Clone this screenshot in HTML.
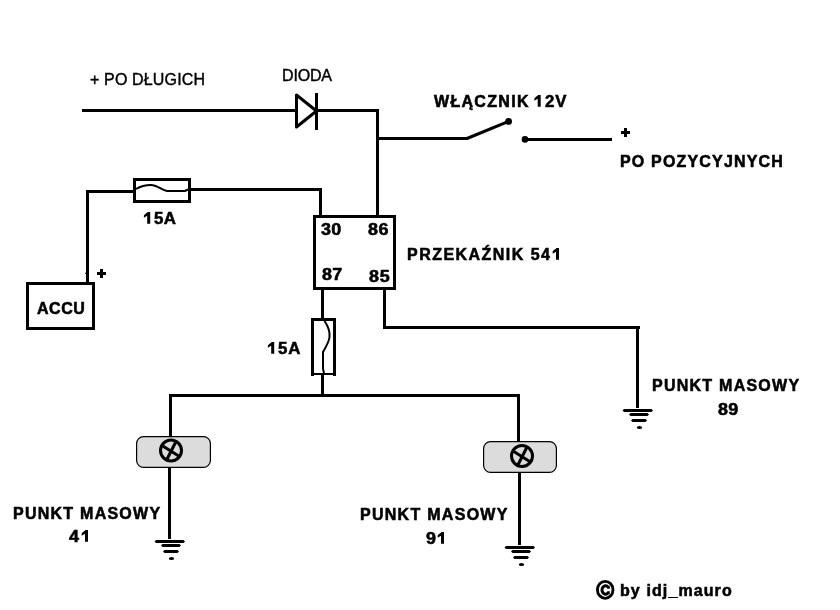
<!DOCTYPE html>
<html><head><meta charset="utf-8"><style>
html,body{margin:0;padding:0;background:#fff;}
body{width:840px;height:610px;position:relative;overflow:hidden;}
svg{position:absolute;left:0;top:0;}
.t{position:absolute;font-family:"Liberation Sans",sans-serif;color:#000;white-space:pre;line-height:1;transform-origin:0 0;will-change:transform;}
</style></head><body>
<svg width="840" height="610" viewBox="0 0 840 610" shape-rendering="geometricPrecision">
<g fill="#000">
<rect x="82" y="109" width="214" height="3"/>
<path d="M296.5,95 L296.5,127 L316.5,111 Z" fill="none" stroke="#000" stroke-width="3" stroke-linejoin="round"/>
<rect x="315" y="93" width="3" height="37"/>
<rect x="318" y="109" width="61" height="3"/>
<rect x="376" y="109" width="3" height="108"/>
<rect x="379" y="137" width="89" height="3"/>
<line x1="467" y1="138.5" x2="508.6" y2="121.4" stroke="#000" stroke-width="3"/>
<circle cx="508.6" cy="121.4" r="3.4"/>
<circle cx="525" cy="139.4" r="3.3"/>
<rect x="525" y="138" width="87" height="3"/>
<rect x="621" y="131" width="9" height="3"/>
<rect x="624" y="128" width="3" height="9"/>
<rect x="97" y="272" width="9" height="3"/>
<rect x="100" y="269" width="3" height="9"/>
<rect x="85" y="272.8" width="1.2" height="1"/>
<rect x="86" y="190" width="47" height="3"/>
<rect x="86" y="190" width="3" height="92"/>
<rect x="134.5" y="179.5" width="55" height="22" fill="none" stroke="#000" stroke-width="3"/>
<path d="M136,189 C141,186 145,185 151,185 C157,185 161,190 167,191 L185,191 L188,189.5" fill="none" stroke="#000" stroke-width="2"/>
<rect x="191" y="188" width="131" height="3"/>
<rect x="319" y="188" width="3" height="27"/>
<rect x="314.5" y="216.5" width="80" height="72" fill="none" stroke="#000" stroke-width="3"/>
<rect x="27.5" y="283.5" width="66" height="45" fill="none" stroke="#000" stroke-width="3"/>
<rect x="321" y="290" width="3" height="28"/>
<rect x="311" y="318" width="25" height="3"/>
<rect x="311" y="318" width="3" height="58"/>
<rect x="333" y="318" width="3" height="58"/>
<rect x="314" y="373" width="19" height="2"/>
<path d="M324.5,321 C328,326 330,332 329.5,337 C329,342 326,347 323,352 L323,369 L324,373" fill="none" stroke="#000" stroke-width="2"/>
<rect x="321" y="375" width="3" height="20"/>
<rect x="169" y="394" width="351" height="3"/>
<rect x="169" y="394" width="3" height="42"/>
<rect x="136.6" y="436.6" width="73.8" height="30.8" rx="7" ry="7" fill="#dcdcdc" stroke="#000" stroke-width="1.2"/><circle cx="171" cy="450.5" r="10.5" fill="none" stroke="#000" stroke-width="3"/><path d="M162,445.5 L179.5,456.5 M176,441.5 L167,459.2" stroke="#000" stroke-width="3" fill="none"/>
<rect x="168" y="468" width="3" height="71"/>
<polygon points="154.5,541.5 156.0,540 183.5,540 185,541.5 183.5,543 156.0,543"/><polygon points="161,545.5 162.5,544 179.5,544 181,545.5 179.5,547 162.5,547"/><polygon points="163,551.5 164.5,550 177.5,550 179,551.5 177.5,553 164.5,553"/><ellipse cx="171.5" cy="558.5" rx="2.7" ry="1.6"/>
<rect x="517" y="394" width="3" height="47"/>
<rect x="483.6" y="441.6" width="72.8" height="30.8" rx="7" ry="7" fill="#dcdcdc" stroke="#000" stroke-width="1.2"/><circle cx="522" cy="456" r="10.5" fill="none" stroke="#000" stroke-width="3"/><path d="M513,451 L530.5,462 M527,447 L518,464.7" stroke="#000" stroke-width="3" fill="none"/>
<rect x="518" y="473" width="3" height="72"/>
<polygon points="504.5,547.5 506.0,546 533.5,546 535,547.5 533.5,549 506.0,549"/><polygon points="511,551.5 512.5,550 529.5,550 531,551.5 529.5,553 512.5,553"/><polygon points="513,557.5 514.5,556 527.5,556 529,557.5 527.5,559 514.5,559"/><ellipse cx="521.5" cy="564.5" rx="2.7" ry="1.6"/>
<rect x="383" y="290" width="3" height="39"/>
<rect x="383" y="326" width="257" height="3"/>
<rect x="636" y="326" width="3" height="82"/>
<polygon points="622.5,410.5 624.0,409 651.5,409 653,410.5 651.5,412 624.0,412"/><polygon points="629,414.5 630.5,413 647.5,413 649,414.5 647.5,416 630.5,416"/><polygon points="631,420.5 632.5,419 645.5,419 647,420.5 645.5,422 632.5,422"/><ellipse cx="639.5" cy="427.5" rx="2.7" ry="1.6"/>
<path d="M147.2,212 L150.2,212 L150.2,223.8 L147.2,223.8 Z M147.6,212 L147.6,215.4 L143.89999999999998,217.8 L143.89999999999998,215.2 Z"/>
<path d="M271.2,342 L274.2,342 L274.2,353.8 L271.2,353.8 Z M271.59999999999997,342 L271.59999999999997,345.4 L267.9,347.8 L267.9,345.2 Z"/>
<path d="M537.7,95 L540.7,95 L540.7,106.8 L537.7,106.8 Z M538.1,95 L538.1,98.4 L534.4000000000001,100.8 L534.4000000000001,98.2 Z"/>
<path d="M556,248 L559,248 L559,259.8 L556,259.8 Z M556.4,248 L556.4,251.4 L552.7,253.8 L552.7,251.2 Z"/>
<path d="M85,530 L88,530 L88,541.8 L85,541.8 Z M85.4,530 L85.4,533.4 L81.7,535.8 L81.7,533.2 Z"/>
<path d="M441,532 L444,532 L444,543.8 L441,543.8 Z M441.4,532 L441.4,535.4 L437.7,537.8 L437.7,535.2 Z"/>
<ellipse cx="605.2" cy="589.8" rx="7.8" ry="8.5" fill="none" stroke="#000" stroke-width="2.8"/>
<path d="M609.8,587.2 L608.1,587.2 A3.5,4.2 0 1 0 608.1,592.8 L609.8,592.8" fill="none" stroke="#000" stroke-width="3"/>
</g>
</svg>
<div class="t" style="left:89.7px;top:71.8px;font-size:16px;font-weight:normal;letter-spacing:0.15px;transform:scaleX(1.0);-webkit-text-stroke:0.4px #000">+ PO DŁUGICH</div>
<div class="t" style="left:282.0px;top:68.0px;font-size:16px;font-weight:normal;letter-spacing:-0.17px;transform:scaleX(1.0);-webkit-text-stroke:0.4px #000">DIODA</div>
<div class="t" style="left:433.8px;top:93.8px;font-size:16px;font-weight:bold;letter-spacing:1.31px;transform:scaleX(1.0);-webkit-text-stroke:0.55px #000">WŁĄCZNIK</div>
<div class="t" style="left:545.0px;top:93.8px;font-size:16px;font-weight:bold;letter-spacing:0.86px;transform:scaleX(1.05);-webkit-text-stroke:0.55px #000">2V</div>
<div class="t" style="left:619.5px;top:154.3px;font-size:16px;font-weight:bold;letter-spacing:1.17px;transform:scaleX(1.0);-webkit-text-stroke:0.55px #000">PO POZYCYJNYCH</div>
<div class="t" style="left:154.0px;top:210.8px;font-size:16px;font-weight:bold;letter-spacing:0.38px;transform:scaleX(1.05);-webkit-text-stroke:0.55px #000">5A</div>
<div class="t" style="left:320.8px;top:221.8px;font-size:16px;font-weight:bold;letter-spacing:0.18px;transform:scaleX(1.12);-webkit-text-stroke:0.55px #000">30</div>
<div class="t" style="left:368.1px;top:222.1px;font-size:16px;font-weight:bold;letter-spacing:0.45px;transform:scaleX(1.12);-webkit-text-stroke:0.55px #000">86</div>
<div class="t" style="left:322.0px;top:266.9px;font-size:16px;font-weight:bold;letter-spacing:0.18px;transform:scaleX(1.12);-webkit-text-stroke:0.55px #000">87</div>
<div class="t" style="left:369.0px;top:269.0px;font-size:16px;font-weight:bold;letter-spacing:0.62px;transform:scaleX(1.12);-webkit-text-stroke:0.55px #000">85</div>
<div class="t" style="left:407.1px;top:246.8px;font-size:16px;font-weight:bold;letter-spacing:1.47px;transform:scaleX(1.0);-webkit-text-stroke:0.55px #000">PRZEKAŹNIK 54</div>
<div class="t" style="left:36.6px;top:300.9px;font-size:16px;font-weight:bold;letter-spacing:0.53px;transform:scaleX(1.0);-webkit-text-stroke:0.55px #000">ACCU</div>
<div class="t" style="left:278.0px;top:340.9px;font-size:16px;font-weight:bold;letter-spacing:0.95px;transform:scaleX(1.05);-webkit-text-stroke:0.55px #000">5A</div>
<div class="t" style="left:652.2px;top:378.3px;font-size:16px;font-weight:bold;letter-spacing:1.25px;transform:scaleX(1.0);-webkit-text-stroke:0.55px #000">PUNKT MASOWY</div>
<div class="t" style="left:718.0px;top:401.9px;font-size:16px;font-weight:bold;letter-spacing:0.18px;transform:scaleX(1.12);-webkit-text-stroke:0.55px #000">89</div>
<div class="t" style="left:13.3px;top:506.1px;font-size:16px;font-weight:bold;letter-spacing:1.25px;transform:scaleX(1.0);-webkit-text-stroke:0.55px #000">PUNKT MASOWY</div>
<div class="t" style="left:69.4px;top:529.0px;font-size:16px;font-weight:bold;letter-spacing:0.0px;transform:scaleX(1.12);-webkit-text-stroke:0.55px #000">4</div>
<div class="t" style="left:359.5px;top:507.0px;font-size:16px;font-weight:bold;letter-spacing:1.28px;transform:scaleX(1.0);-webkit-text-stroke:0.55px #000">PUNKT MASOWY</div>
<div class="t" style="left:426.0px;top:530.9px;font-size:16px;font-weight:bold;letter-spacing:0.0px;transform:scaleX(1.12);-webkit-text-stroke:0.55px #000">9</div>
<div class="t" style="left:620.2px;top:583.0px;font-size:16px;font-weight:bold;letter-spacing:1.1px;transform:scaleX(1.0);-webkit-text-stroke:0.55px #000">by idj_mauro</div>
</body></html>
